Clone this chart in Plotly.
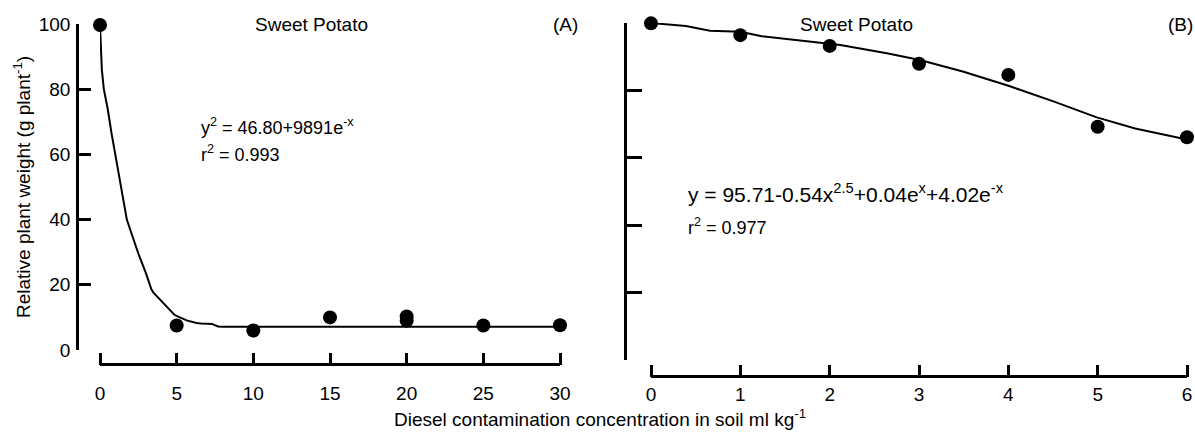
import plotly.graph_objects as go

W, H = 1195, 432
FONT = "Liberation Sans, Arial, sans-serif"
FS = 19

# Panel A data
a_x = [0, 5, 10, 15, 20, 20, 25, 30]
a_y = [99.7, 7.5, 6.0, 10.0, 10.3, 9.0, 7.5, 7.6]
a_fit_x = [0, 0.12, 0.25, 0.5, 0.75, 1, 1.5, 1.75, 2, 2.5, 3, 3.35, 3.5, 4, 4.5, 4.85, 5.2, 5.7, 6.3, 6.6, 7.3, 7.7, 8, 10, 15, 20, 25, 30]
a_fit_y = [99.7, 86.0, 80.0, 74.0, 66.5, 60.0, 47.0, 40.0, 36.5, 29.6, 23.5, 18.6, 17.5, 15.0, 12.8, 10.8, 10.0, 9.0, 8.3, 8.1, 8.0, 7.2, 7.1, 7.1, 7.1, 7.1, 7.1, 7.1]

# Panel B data
b_x = [0, 1, 2, 3, 4, 5, 6]
b_y = [99.9, 96.4, 93.2, 87.9, 84.6, 69.2, 66.1]
b_fit_x = [0, 0.39, 0.66, 1.0, 1.24, 1.74, 2.12, 2.64, 3.01, 3.49, 4.01, 4.52, 4.99, 5.42, 6.0]
b_fit_y = [100.0, 99.1, 97.7, 97.4, 96.1, 94.7, 93.5, 91.0, 89.0, 85.6, 81.3, 76.6, 72.0, 68.7, 65.4]

y_ticks = [0, 20, 40, 60, 80, 100]
a_xticks = [0, 5, 10, 15, 20, 25, 30]
b_xticks = [0, 1, 2, 3, 4, 5, 6]

fig = go.Figure()
mk = dict(color="black", size=14)
ln = dict(color="black", width=2)
fig.add_trace(go.Scatter(x=a_fit_x, y=a_fit_y, mode="lines", line=ln, xaxis="x", yaxis="y", cliponaxis=False, showlegend=False))
fig.add_trace(go.Scatter(x=a_x, y=a_y, mode="markers", marker=mk, xaxis="x", yaxis="y", cliponaxis=False, showlegend=False))
fig.add_trace(go.Scatter(x=b_fit_x, y=b_fit_y, mode="lines", line=ln, xaxis="x2", yaxis="y2", cliponaxis=False, showlegend=False))
fig.add_trace(go.Scatter(x=b_x, y=b_y, mode="markers", marker=mk, xaxis="x2", yaxis="y2", cliponaxis=False, showlegend=False))
# empty helper traces on the tick-only overlay axes
fig.add_trace(go.Scatter(x=[None], y=[None], xaxis="x3", yaxis="y", showlegend=False, hoverinfo="skip"))
fig.add_trace(go.Scatter(x=[None], y=[None], xaxis="x4", yaxis="y2", showlegend=False, hoverinfo="skip"))

def px(v):
    return v / W

def py(v):
    return 1 - v / H

tickfont = dict(family=FONT, size=FS, color="black")
# label axes (bottom line + labels, no ticks)
lab_x = dict(showline=True, linecolor="black", linewidth=2.5, ticks="", showgrid=False, zeroline=False,
             tickfont=tickfont, anchor="free", automargin=False)
# tick-only overlay axes (ticks pointing upward)
tick_x = dict(showline=False, side="top", ticks="outside", ticklen=12, tickwidth=2.5, tickcolor="black",
              showticklabels=False, showgrid=False, zeroline=False, anchor="free", automargin=False)
common_y = dict(showline=True, linecolor="black", linewidth=2.5, ticks="inside", ticklen=12, tickwidth=2.5,
                tickcolor="black", showgrid=False, zeroline=False, tickfont=tickfont, anchor="free",
                range=[0, 100], automargin=False)

fig.update_layout(
    template="none",
    width=W, height=H, margin=dict(l=0, r=0, t=0, b=0, autoexpand=False),
    paper_bgcolor="white", plot_bgcolor="rgba(0,0,0,0)",
    xaxis=dict(domain=[px(100), px(560)], range=[0, 30], tickvals=a_xticks, position=py(364),
               ticklabelstandoff=11, **lab_x),
    xaxis3=dict(overlaying="x", range=[0, 30], tickvals=a_xticks, position=py(365), **tick_x),
    yaxis=dict(domain=[py(350), py(24)], tickvals=y_ticks, position=px(77), ticklabelstandoff=2, **common_y),
    xaxis2=dict(domain=[px(651), px(1187)], range=[0, 6], tickvals=b_xticks, position=py(376), **lab_x),
    xaxis4=dict(overlaying="x2", range=[0, 6], tickvals=b_xticks, position=py(377), **tick_x),
    yaxis2=dict(domain=[py(360), py(23)], tickvals=y_ticks, showticklabels=False, position=px(625), **{**common_y, "ticklen": 15}),
)

def ann(text, x, y, xanchor="center", size=FS):
    fig.add_annotation(text=text, x=px(x), y=py(y), xref="paper", yref="paper", showarrow=False,
                       xanchor=xanchor, yanchor="middle", font=dict(family=FONT, size=size, color="black"))

ann("Sweet Potato", 311, 24)
ann("(A)", 565, 24)
ann("Sweet Potato", 857, 24)
ann("(B)", 1180, 24)
ann("y<sup>2</sup> = 46.80+9891e<sup>-x</sup>", 199, 126, "left", 18)
ann("r<sup>2</sup> = 0.993", 199, 154, "left", 18)
ann("y = 95.71-0.54x<sup>2.5</sup>+0.04e<sup>x</sup>+4.02e<sup>-x</sup>", 686, 193, "left", 21)
ann("r<sup>2</sup> = 0.977", 686, 226, "left", 18)
ann("Diesel contamination concentration in soil ml kg<sup>-1</sup>", 600, 418)
fig.add_annotation(text="Relative plant weight (g plant<sup>-1</sup>)", x=px(22), y=py(187), xref="paper", yref="paper",
                   showarrow=False, textangle=-90, xanchor="center", yanchor="middle",
                   font=dict(family=FONT, size=FS, color="black"))

fig.write_html("out.html", config={"displayModeBar": False},
               post_script="document.body.style.margin='0';")
